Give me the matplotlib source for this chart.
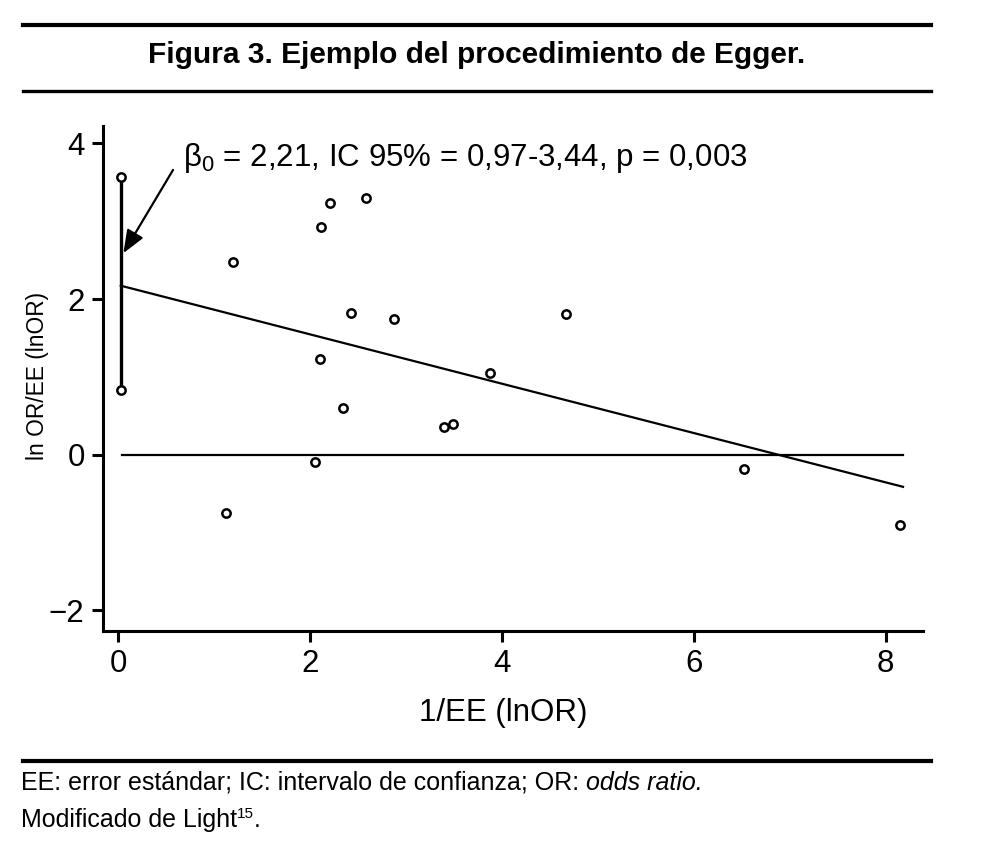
import matplotlib
matplotlib.use("Agg")
import matplotlib.pyplot as plt
from matplotlib import font_manager as fm
from matplotlib.lines import Line2D

# fuentes
plt.rcParams['font.family'] = ['Liberation Sans', 'DejaVu Sans']
plt.rcParams['mathtext.fontset'] = 'custom'
plt.rcParams['mathtext.rm'] = 'Liberation Sans'
plt.rcParams['mathtext.it'] = 'Liberation Sans:italic'

nombres = {f.name for f in fm.fontManager.ttflist}
fuente_pie = 'Liberation Sans Narrow' if 'Liberation Sans Narrow' in nombres else 'Liberation Sans'

# datos (1/EE, lnOR/EE)
x_prec = [0.025, 0.025, 1.19, 1.12, 2.11, 2.21, 2.58, 2.42, 2.10, 2.34, 2.05,
          2.87, 3.39, 3.49, 3.87, 4.67, 6.52, 8.15]
y_snd = [3.57, 0.83, 2.48, -0.745, 2.92, 3.24, 3.30, 1.82, 1.23, 0.60, -0.09,
         1.74, 0.36, 0.40, 1.05, 1.81, -0.19, -0.90]

# recta de Egger
intercepto = 2.18
pendiente = -0.317
x_recta = [0.025, 8.18]
y_recta = [intercepto + pendiente * v for v in x_recta]

# intervalo vertical en x=0 y línea de referencia
ic_x = [0.025, 0.025]
ic_y = [0.83, 3.57]
cero_x = [0.035, 8.18]
cero_y = [0, 0]

texto_beta = "β$_0$ = 2,21, IC 95% = 0,97-3,44, p = 0,003"

fig = plt.figure(figsize=(9.84, 8.61), dpi=100)
ax = fig.add_axes([0.1044, 0.2675, 0.8333, 0.5862])

ax.plot(ic_x, ic_y, color='black', lw=2.4, zorder=2)
ax.plot(x_recta, y_recta, color='black', lw=1.6, zorder=2)
ax.plot(cero_x, cero_y, color='black', lw=1.6, zorder=2)
ax.plot(x_prec, y_snd, 'o', ms=6, mfc='white', mec='black', mew=1.8, zorder=3)

ax.annotate("", xy=(0.052, 2.59), xytext=(0.57, 3.66),
            arrowprops=dict(arrowstyle='-|>,head_length=0.5,head_width=0.2',
                            color='black', lw=1.6,
                            mutation_scale=28, shrinkA=0, shrinkB=0))
ax.text(0.675, 3.71, texto_beta, fontsize=22.5, va='baseline', ha='left')

ax.set_xlim(-0.163, 8.385)
ax.set_ylim(-2.262, 4.225)
ax.set_xticks([0, 2, 4, 6, 8])
ax.set_yticks([-2, 0, 2, 4])
ax.set_yticklabels(['\u22122', '0', '2', '4'])
ax.tick_params(labelsize=22.5, width=2.2, length=8, pad=5)
for s in ['top', 'right']:
    ax.spines[s].set_visible(False)
for s in ['left', 'bottom']:
    ax.spines[s].set_linewidth(2.2)

ax.set_xlabel("1/EE (lnOR)", fontsize=22.5)
ax.xaxis.set_label_coords(0.488, -0.163)
ax.xaxis.label.set_va('center')
ax.set_ylabel("ln OR/EE (lnOR)", fontsize=16.4)
ax.yaxis.set_label_coords(-0.079, 0.505)
ax.yaxis.label.set_va('center')

# filetes y título
for yy, ww in [(0.9706, 3.0), (0.8943, 2.4), (0.1167, 3.0)]:
    fig.add_artist(Line2D([0.023, 0.9459], [yy, yy], color='black', lw=ww))
fig.text(0.4848, 0.9265, "Figura 3. Ejemplo del procedimiento de Egger.",
         fontsize=21.5, fontweight='bold', ha='center', va='baseline')

# pie de figura
r = fig.canvas.get_renderer()
t1 = fig.text(0.0215, 0.0830, "EE: error estándar; IC: intervalo de confianza; OR: ",
              fontsize=18, family=fuente_pie, va='baseline')
x1 = fig.transFigure.inverted().transform(t1.get_window_extent(r))[1][0]
fig.text(x1, 0.0830, "odds ratio.", fontsize=18, family=fuente_pie, style='italic',
         va='baseline')
t2 = fig.text(0.0215, 0.0391, "Modificado de Light", fontsize=18, family=fuente_pie,
              va='baseline')
x2 = fig.transFigure.inverted().transform(t2.get_window_extent(r))[1][0]
t3 = fig.text(x2, 0.0500, "15", fontsize=11, family=fuente_pie, va='baseline')
x3 = fig.transFigure.inverted().transform(t3.get_window_extent(r))[1][0]
fig.text(x3, 0.0391, ".", fontsize=18, family=fuente_pie, va='baseline')

fig.savefig("out.png", dpi=100)
